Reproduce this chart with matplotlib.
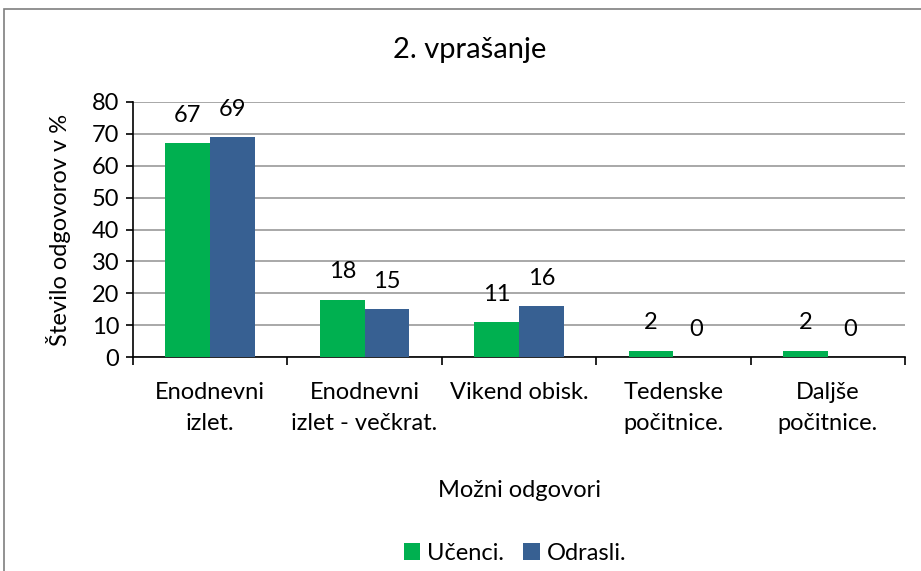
import matplotlib
matplotlib.use("Agg")
import matplotlib.pyplot as plt
import numpy as np
from matplotlib.patches import Rectangle

categories = ["Enodnevni\nizlet.", "Enodnevni\nizlet - večkrat.", "Vikend obisk.", "Tedenske\npočitnice.", "Daljše\npočitnice."]
ucenci = [67, 18, 11, 2, 2]
odrasli = [69, 15, 16, 0, 0]
series_names = ["Učenci.", "Odrasli."]
yticks = [0, 10, 20, 30, 40, 50, 60, 70, 80]

green = "#00B050"
blue = "#376092"

plt.rcParams['font.family'] = ['Lato', 'DejaVu Sans']

W, H = 921, 571
fig = plt.figure(figsize=(W/100, H/100), dpi=100)
ax = fig.add_axes([133/W, 1-357/H, (905-133)/W, (357-102)/H])

FS = 17
x = np.arange(len(categories))
bw = 0.29
b1 = ax.bar(x - bw/2, ucenci, bw, color=green, label=series_names[0], zorder=3)
b2 = ax.bar(x + bw/2, odrasli, bw, color=blue, label=series_names[1], zorder=3)

for bars, vals in ((b1, ucenci), (b2, odrasli)):
    for r, v in zip(bars, vals):
        ax.annotate(str(v), (r.get_x() + r.get_width()/2, v), xytext=(0, 12.5),
                    textcoords="offset points", ha="center", va="bottom", fontsize=FS)

ax.set_xlim(-0.5, len(categories) - 0.5)
ax.set_ylim(0, 80)
ax.set_yticks(yticks)
ax.tick_params(axis='y', labelsize=FS, length=5, width=1.2, direction='out', pad=5)
ax.yaxis.grid(True, color="#9a9a9a", linewidth=1.2, zorder=0)
ax.set_axisbelow(True)
ax.set_xticks(x)
ax.set_xticklabels(categories, fontsize=FS, linespacing=1.6)
ax.tick_params(axis='x', length=0, pad=18)
ax.set_xticks(np.arange(len(categories) + 1) - 0.5, minor=True)
ax.tick_params(axis='x', which='minor', length=6, width=1.2, direction='out')
for s in ("top", "right"):
    ax.spines[s].set_visible(False)
for s in ("left", "bottom"):
    ax.spines[s].set_linewidth(1.2)

ax.set_ylabel("Število odgovorov v %", fontsize=FS, labelpad=15)
ax.set_xlabel("Možni odgovori", fontsize=FS, labelpad=33)
fig.text(470/W, 1-50/H, "2. vprašanje", ha="center", va="center", fontsize=21)

fig.legend(handles=[b1, b2], loc="center", bbox_to_anchor=(515/W, 1-553/H), ncol=2,
           frameon=False, fontsize=FS, handlelength=0.7, handleheight=0.7,
           handletextpad=0.3, columnspacing=0.8)

fig.add_artist(Rectangle((4/W, -0.05), 1.1, 1+0.05-9/H, transform=fig.transFigure,
                         fill=False, edgecolor="#7f7f7f", linewidth=1.2))

fig.savefig("out.png", dpi=100)
